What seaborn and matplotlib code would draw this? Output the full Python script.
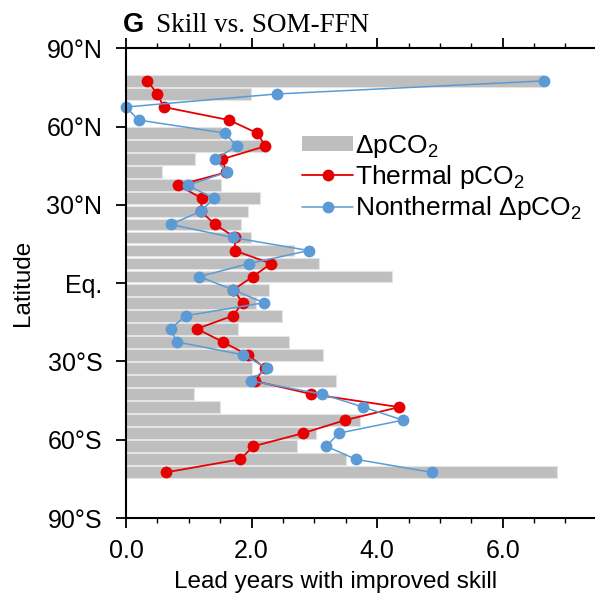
import numpy as np
import pandas as pd
import matplotlib
matplotlib.use("Agg")
import matplotlib.pyplot as plt
from matplotlib.patches import Patch
from matplotlib.lines import Line2D
from matplotlib.ticker import MultipleLocator
import seaborn as sns

# ---- data ----
lat = [77.5, 72.5, 67.5, 62.5, 57.5, 52.5, 47.5, 42.5, 37.5, 32.5, 27.5,
       22.5, 17.5, 12.5, 7.5, 2.5, -2.5, -7.5, -12.5, -17.5, -22.5, -27.5,
       -32.5, -37.5, -42.5, -47.5, -52.5, -57.5, -62.5, -67.5, -72.5]
delta_pco2 = [6.64, 1.99, np.nan, np.nan, 1.52, 2.24, 1.10, 0.57, 1.51, 2.13, 1.95,
              1.83, 1.99, 2.67, 3.07, 4.24, 2.27, 2.07, 2.49, 1.78, 2.60, 3.14,
              2.01, 3.35, 1.08, 1.50, 3.73, 3.03, 2.72, 3.50, 6.86]
thermal = [0.34, 0.50, 0.60, 1.64, 2.09, 2.22, 1.53, 1.60, 0.83, 1.21, 1.19,
           1.42, 1.74, 1.73, 2.31, 2.02, 1.71, 1.86, 1.70, 1.13, 1.54, 1.94,
           2.21, 2.05, 2.95, 4.35, 3.49, 2.82, 2.03, 1.82, 0.64]
nonthermal = [6.65, 2.40, 0.00, 0.20, 1.58, 1.76, 1.42, 1.61, 0.98, 1.40, 1.19,
              0.71, 1.70, 2.91, 1.96, 1.17, 1.70, 2.20, 0.95, 0.71, 0.81, 1.87,
              2.24, 1.99, 3.12, 3.78, 4.41, 3.39, 3.19, 3.66, 4.87]
ytick_pos = [90, 60, 30, 0, -30, -60, -90]
ytick_labels = ["90°N", "60°N", "30°N", "Eq.", "30°S", "60°S", "90°S"]
xtick_pos = [0, 2, 4, 6]
xtick_labels = ["0.0", "2.0", "4.0", "6.0"]
series_names = ["ΔpCO$_2$", "Thermal pCO$_2$", "Nonthermal ΔpCO$_2$"]

# ---- style ----
sns.set_style("ticks")
plt.rcParams["font.family"] = ["Liberation Sans", "DejaVu Sans"]
plt.rcParams["mathtext.fontset"] = "custom"
plt.rcParams["mathtext.rm"] = "Liberation Sans"
plt.rcParams["mathtext.it"] = "Liberation Sans:italic"
plt.rcParams["mathtext.bf"] = "Liberation Sans:bold"
for key in ["text.color", "axes.labelcolor", "xtick.color", "ytick.color", "axes.edgecolor"]:
    plt.rcParams[key] = "black"

GRAY = "#BEBEBE"
RED = "#E60000"
BLUE = "#5B9BD5"

fig = plt.figure(figsize=(5.95, 6.10), dpi=100)
ax = fig.add_axes([126 / 595, 1 - 518 / 610, 1 - 126 / 595, (518 - 48.3) / 610])

df = pd.DataFrame({"lat": lat, "delta": delta_pco2,
                   "thermal": thermal, "nonthermal": nonthermal})

sns.barplot(data=df.dropna(subset=["delta"]), x="delta", y="lat", orient="h",
            native_scale=True, color=GRAY, saturation=1, width=0.9,
            edgecolor="#E4E4E4", linewidth=0.8, ax=ax)

sns.lineplot(data=df, x="thermal", y="lat", orient="y", sort=False,
             estimator=None, color=RED, linewidth=1.3, marker="o",
             markersize=8.5, markeredgewidth=0, clip_on=False, ax=ax)
sns.lineplot(data=df, x="nonthermal", y="lat", orient="y", sort=False,
             estimator=None, color=BLUE, linewidth=1.1, marker="o",
             markersize=8.5, markeredgewidth=0, clip_on=False, ax=ax)

ax.set_xlim(0, 7.47)
ax.set_ylim(-90, 90)
ax.set_yticks(ytick_pos)
ax.set_yticklabels(ytick_labels, fontsize=18)
ax.set_xticks(xtick_pos)
ax.set_xticklabels(xtick_labels, fontsize=18)
ax.xaxis.set_minor_locator(MultipleLocator(0.5))
ax.tick_params(axis="x", which="both", top=True, bottom=True, direction="out")
ax.tick_params(axis="x", which="major", length=7, width=1.3, pad=8)
ax.tick_params(axis="x", which="minor", length=3.5, width=1.0)
ax.tick_params(axis="y", which="major", length=7, width=1.3, pad=10, left=True, right=False)
ax.set_xlabel("Lead years with improved skill", fontsize=17.5)
ax.xaxis.set_label_coords((336 - 126) / 469, -(582 - 518) / 469.7, transform=ax.transAxes)
ax.xaxis.label.set_va("center")
ax.set_ylabel("Latitude", fontsize=17.5)
ax.yaxis.set_label_coords(-(126 - 23) / 469, 0.5, transform=ax.transAxes)
ax.yaxis.label.set_va("center")

for side in ["left", "bottom", "top"]:
    ax.spines[side].set_visible(True)
    ax.spines[side].set_linewidth(1.5)
    ax.spines[side].set_color("black")
ax.spines["right"].set_visible(False)

handles = [Patch(facecolor=GRAY, edgecolor="none"),
           Line2D([], [], color=RED, linewidth=1.3, marker="o", markersize=8.5, markeredgewidth=0),
           Line2D([], [], color=BLUE, linewidth=1.1, marker="o", markersize=8.5, markeredgewidth=0)]
leg = ax.legend(handles, series_names, loc="upper left", bbox_to_anchor=(0.376, 0.82),
                frameon=False, fontsize=19, handlelength=1.93, handletextpad=0.08,
                labelspacing=0.12, borderpad=0, borderaxespad=0, handleheight=0.55)

fig.text(123 / 595, 1 - 31.5 / 610, "G", fontsize=19.5, fontweight="bold",
         family=["Liberation Sans", "DejaVu Sans"], va="baseline", ha="left")
fig.text(156.5 / 595, 1 - 31.5 / 610, "Skill vs. SOM-FFN", fontsize=19.5,
         family=["Liberation Serif", "DejaVu Serif"], va="baseline", ha="left")

fig.savefig("out.png", dpi=100)
